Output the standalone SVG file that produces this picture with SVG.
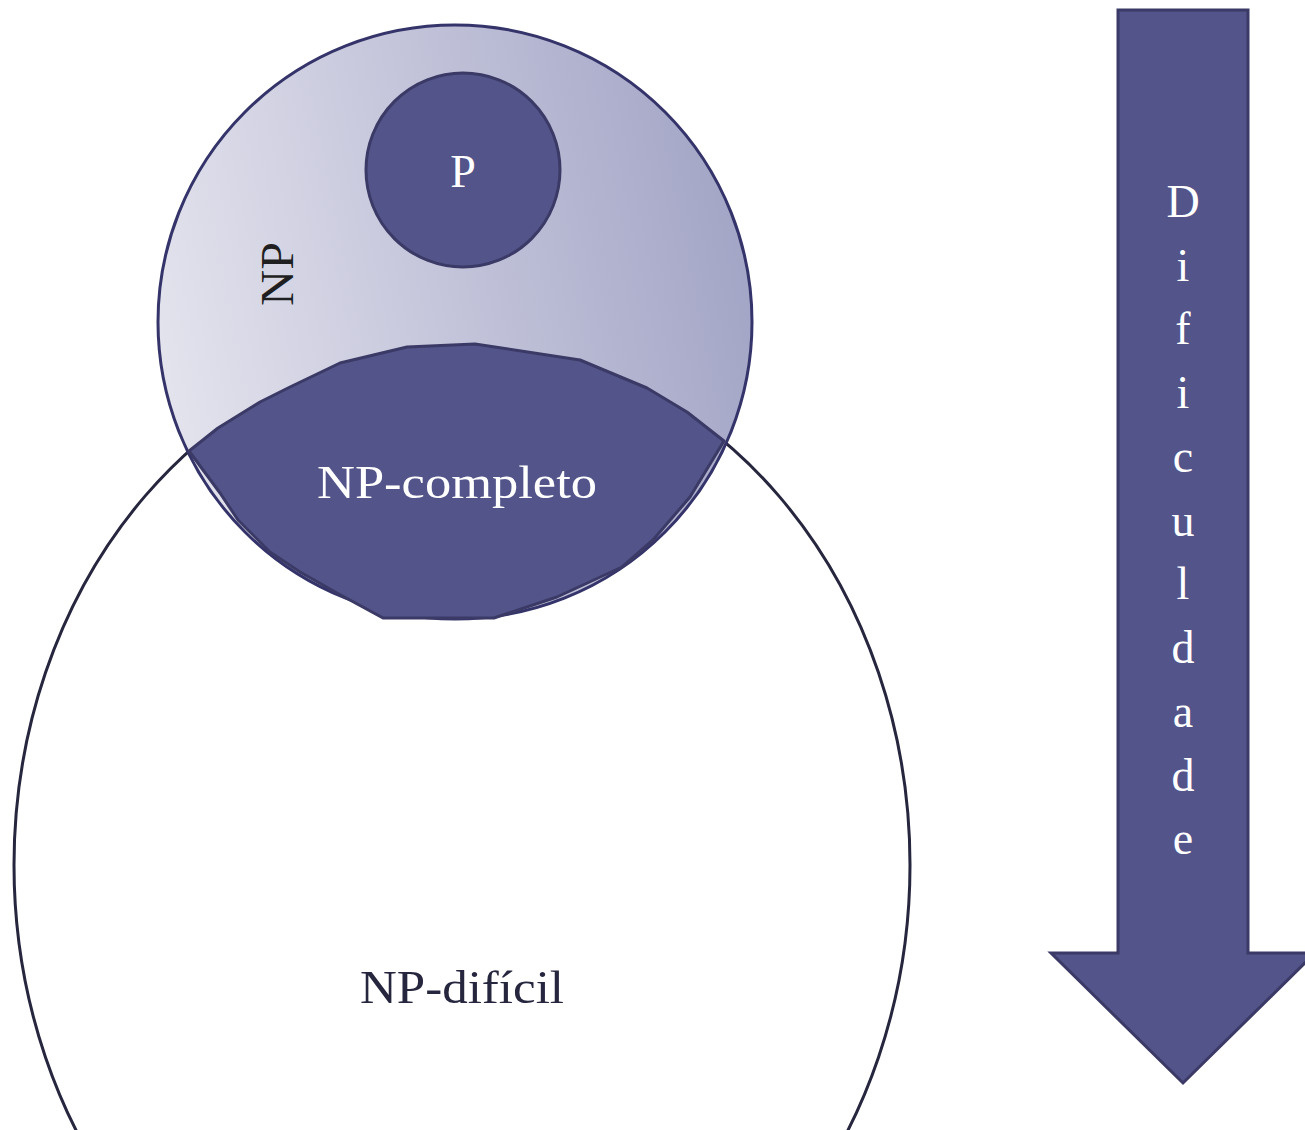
<svg xmlns="http://www.w3.org/2000/svg" width="1305" height="1130" viewBox="0 0 1305 1130">
<defs>
<linearGradient id="npGrad" x1="0" y1="0.6" x2="1" y2="0.4">
<stop offset="0" stop-color="#e4e4ee"/>
<stop offset="1" stop-color="#a3a5c6"/>
</linearGradient>
<style>
.dark{fill:#52548a;stroke:#3b3a66;stroke-width:3}
.wt{font-family:"Liberation Serif","DejaVu Serif",serif;font-size:46px;fill:#ffffff;text-anchor:middle}
.bt{font-family:"Liberation Serif","DejaVu Serif",serif;font-size:46px;fill:#26263f;text-anchor:middle}
</style>
</defs>
<rect width="1305" height="1130" fill="#ffffff"/>
<g id="np-dificil">
<ellipse cx="462" cy="865" rx="448" ry="522" fill="#ffffff" stroke="#26263f" stroke-width="3"/>
<text class="bt" x="462" y="1003" textLength="204" lengthAdjust="spacingAndGlyphs">NP-difícil</text>
</g>
<g id="np">
<circle cx="455" cy="322" r="297" fill="url(#npGrad)" stroke="#35346a" stroke-width="3"/>
<text class="bt" transform="translate(293 274) rotate(-90)" x="0" y="0" style="fill:#1f1f22" textLength="64" lengthAdjust="spacingAndGlyphs">NP</text>
</g>
<g id="np-completo">
<polygon class="dark" stroke-linejoin="round" points="189,451 218,428 260,402 290,387 340,363 407,347 475,344 580,360 647,388 687,412 724,441 690,497 653,540 622,567 557,597 494,618 383,618 337,593 300,572 270,552 238,520 220,493"/>
<text class="wt" x="457" y="498" textLength="280" lengthAdjust="spacingAndGlyphs">NP-completo</text>
</g>
<g id="p">
<circle class="dark" cx="463" cy="170" r="97"/>
<text class="wt" x="463" y="187">P</text>
</g>
<g id="dificuldade">
<path class="dark" d="M1118 10 H1248 V953 H1315 L1183 1083 L1051 953 H1118 Z"/>
<text class="wt" x="1183" y="217">D</text>
<text class="wt" x="1183" y="281">i</text>
<text class="wt" x="1183" y="344">f</text>
<text class="wt" x="1183" y="408">i</text>
<text class="wt" x="1183" y="472">c</text>
<text class="wt" x="1183" y="536">u</text>
<text class="wt" x="1183" y="599">l</text>
<text class="wt" x="1183" y="663">d</text>
<text class="wt" x="1183" y="727">a</text>
<text class="wt" x="1183" y="791">d</text>
<text class="wt" x="1183" y="854">e</text>
</g>
<g id="connectors"/>
</svg>
